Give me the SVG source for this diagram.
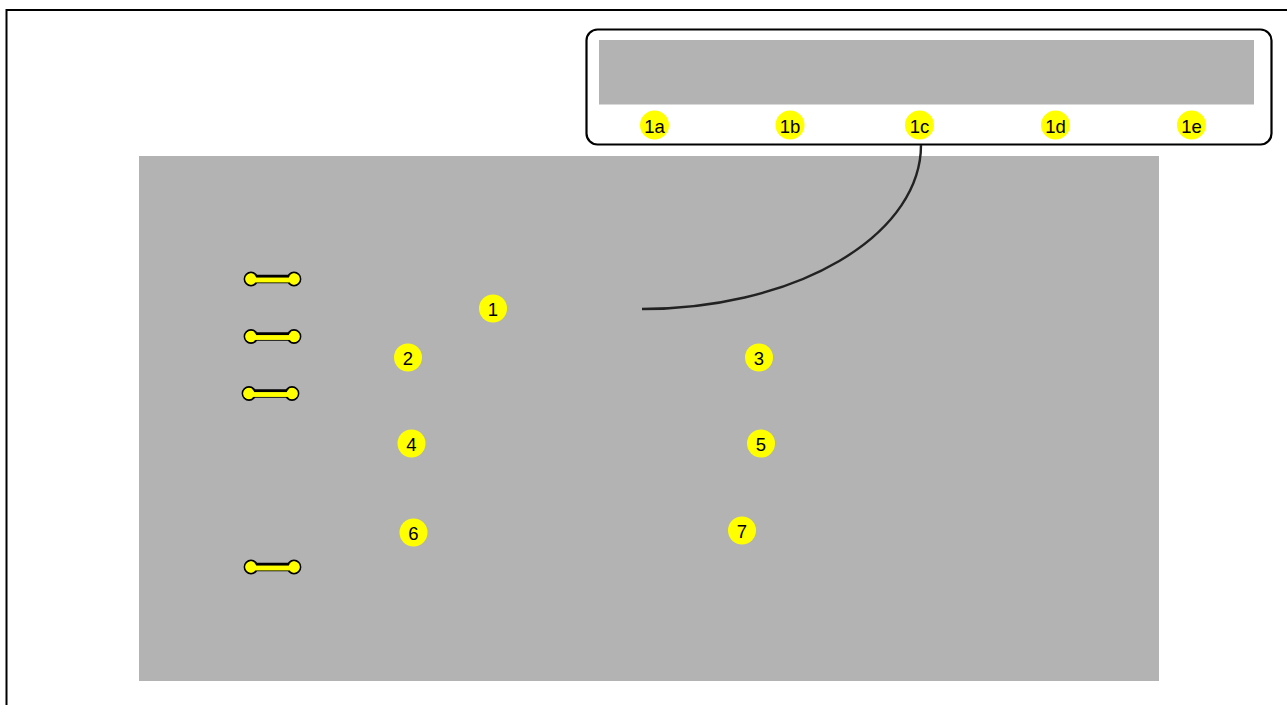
<svg xmlns="http://www.w3.org/2000/svg" width="1287" height="705" viewBox="0 0 1287 705">
<style>
.badge circle{fill:#ffff00;}
.badge text{font-family:"Liberation Sans",Arial,sans-serif;font-size:18.5px;fill:#000;text-anchor:middle;}
.gray{fill:#b3b3b3;}
.dbo{stroke:#000;stroke-width:8.5;}
.dbi{stroke:#ffff00;stroke-width:4.5;}
.dbc{fill:#ffff00;stroke:#000;stroke-width:1.6;}
</style>
<defs>
<g id="dumbbell">
<circle class="dbc" cx="6" cy="0" r="6.6"/>
<circle class="dbc" cx="49" cy="0" r="6.6"/>
<line class="dbo" x1="8" y1="0" x2="47" y2="0"/>
<line class="dbi" x1="6" y1="1" x2="49" y2="1"/>
<circle cx="6" cy="0" r="5.4" fill="#ffff00"/>
<circle cx="49" cy="0" r="5.4" fill="#ffff00"/>
<line class="dbi" x1="6" y1="1" x2="49" y2="1"/>
</g>
</defs>
<rect x="0" y="0" width="1287" height="705" fill="#fff"/>
<g id="frame">
<rect x="6.5" y="10" width="1300" height="720" fill="none" stroke="#000" stroke-width="2"/>
</g>
<g id="main-area">
<rect class="gray" x="139" y="156" width="1020" height="525"/>
</g>
<g id="detail-box">
<rect x="586.5" y="29.5" width="685" height="115" rx="11" fill="#fff" stroke="#000" stroke-width="2.2"/>
<rect class="gray" x="599" y="40" width="655" height="64.5"/>
</g>
<g id="connectors">
<path d="M921,145 A279,164 0 0 1 642,309" fill="none" stroke="#222" stroke-width="2.4"/>
</g>
<g id="dumbbells">
<use href="#dumbbell" x="245" y="279"/>
<use href="#dumbbell" x="245" y="336.5"/>
<use href="#dumbbell" x="243" y="393.5"/>
<use href="#dumbbell" x="245" y="567"/>
</g>
<g id="badge-1a" class="badge"><circle cx="654.5" cy="125" r="14.5"/><text x="654.5" y="132.5">1a</text></g>
<g id="badge-1b" class="badge"><circle cx="790" cy="125" r="14.5"/><text x="790" y="132.5">1b</text></g>
<g id="badge-1c" class="badge"><circle cx="919.5" cy="125" r="14.5"/><text x="919.5" y="132.5">1c</text></g>
<g id="badge-1d" class="badge"><circle cx="1055.5" cy="125" r="14.5"/><text x="1055.5" y="132.5">1d</text></g>
<g id="badge-1e" class="badge"><circle cx="1191.5" cy="125" r="14.5"/><text x="1191.5" y="132.5">1e</text></g>
<g id="badge-1" class="badge"><circle cx="493" cy="308.5" r="14"/><text x="493" y="315.5">1</text></g>
<g id="badge-2" class="badge"><circle cx="408" cy="357.5" r="14"/><text x="408" y="364.5">2</text></g>
<g id="badge-3" class="badge"><circle cx="759" cy="357.5" r="14"/><text x="759" y="364.5">3</text></g>
<g id="badge-4" class="badge"><circle cx="411.5" cy="443.5" r="14"/><text x="411.5" y="450.5">4</text></g>
<g id="badge-5" class="badge"><circle cx="761" cy="443.5" r="14"/><text x="761" y="450.5">5</text></g>
<g id="badge-6" class="badge"><circle cx="413.5" cy="532.5" r="14"/><text x="413.5" y="539.5">6</text></g>
<g id="badge-7" class="badge"><circle cx="742" cy="530.5" r="14"/><text x="742" y="537.5">7</text></g>
</svg>
